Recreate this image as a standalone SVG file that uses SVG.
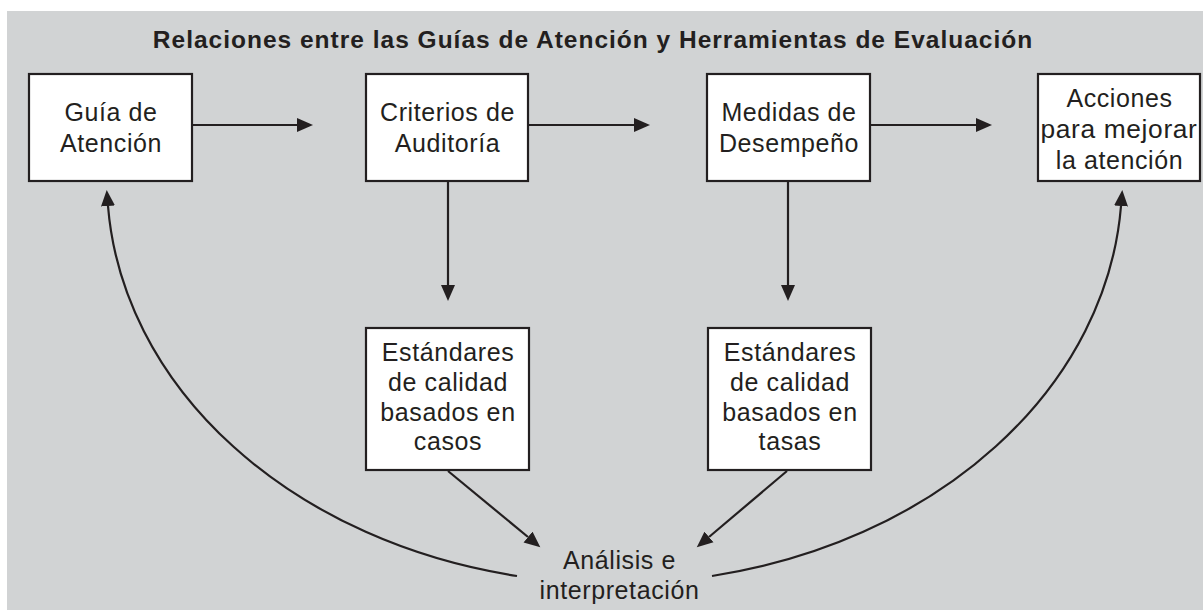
<svg xmlns="http://www.w3.org/2000/svg" width="1203" height="610" viewBox="0 0 1203 610">
  <style>
    .bg { fill: #d1d3d4; }
    .box { fill: #ffffff; stroke: #231f20; stroke-width: 2.2; }
    .lbl { font-family: "Liberation Sans", Arial, sans-serif; font-size: 25px; letter-spacing: 0.6px; fill: #231f20; text-anchor: middle; }
    .title { font-family: "Liberation Sans", Arial, sans-serif; font-size: 24.5px; letter-spacing: 1px; font-weight: bold; fill: #231f20; text-anchor: middle; }
    .conn { fill: none; stroke: #231f20; stroke-width: 2.2; }
  </style>
  <defs>
    <marker id="ah" markerUnits="userSpaceOnUse" markerWidth="17" markerHeight="15" refX="0" refY="7" orient="auto" viewBox="0 0 17 14">
      <path d="M0,0 L16,7 L0,14 z" fill="#231f20"/>
    </marker>
  </defs>
  <rect class="bg" x="7" y="11" width="1196" height="599"/>
  <text class="title" x="593" y="47.5">Relaciones entre las Guías de Atención y Herramientas de Evaluación</text>

  <g id="connectors">
    <line class="conn" x1="193" y1="125" x2="297" y2="125" marker-end="url(#ah)"/>
    <line class="conn" x1="529" y1="125" x2="634" y2="125" marker-end="url(#ah)"/>
    <line class="conn" x1="871" y1="125" x2="976" y2="125" marker-end="url(#ah)"/>
    <line class="conn" x1="448" y1="182" x2="448" y2="285" marker-end="url(#ah)"/>
    <line class="conn" x1="788" y1="182" x2="788" y2="285" marker-end="url(#ah)"/>
    <line class="conn" x1="448" y1="471" x2="528" y2="537" marker-end="url(#ah)"/>
    <line class="conn" x1="787" y1="471" x2="709" y2="537" marker-end="url(#ah)"/>
    <path class="conn" d="M517,576 A506.5,403.5 0 0 1 108,206" marker-end="url(#ah)"/>
    <path class="conn" d="M712,576 A506.5,403.5 0 0 0 1121,206" marker-end="url(#ah)"/>
  </g>

  <g id="guia">
    <rect class="box" x="29" y="74" width="163" height="107"/>
    <text class="lbl" x="111" y="120.5">Guía de</text>
    <text class="lbl" x="111" y="151.5">Atención</text>
  </g>
  <g id="criterios">
    <rect class="box" x="366" y="74" width="162" height="107"/>
    <text class="lbl" x="447.5" y="120.5">Criterios de</text>
    <text class="lbl" x="447.5" y="151.5">Auditoría</text>
  </g>
  <g id="medidas">
    <rect class="box" x="707" y="74" width="163" height="107"/>
    <text class="lbl" x="789" y="120.5">Medidas de</text>
    <text class="lbl" x="789" y="151.5">Desempeño</text>
  </g>
  <g id="acciones">
    <rect class="box" x="1038" y="74" width="162" height="107"/>
    <text class="lbl" x="1119.5" y="107">Acciones</text>
    <text class="lbl" x="1119" y="138" textLength="157" lengthAdjust="spacingAndGlyphs">para mejorar</text>
    <text class="lbl" x="1119.5" y="169">la atención</text>
  </g>
  <g id="estandares-casos">
    <rect class="box" x="366" y="328" width="163" height="142"/>
    <text class="lbl" x="448" y="360.5">Estándares</text>
    <text class="lbl" x="448" y="390.5">de calidad</text>
    <text class="lbl" x="448" y="420.5">basados en</text>
    <text class="lbl" x="448" y="450">casos</text>
  </g>
  <g id="estandares-tasas">
    <rect class="box" x="708" y="328" width="163" height="142"/>
    <text class="lbl" x="790" y="360.5">Estándares</text>
    <text class="lbl" x="790" y="390.5">de calidad</text>
    <text class="lbl" x="790" y="420.5">basados en</text>
    <text class="lbl" x="790" y="450">tasas</text>
  </g>
  <g id="analisis">
    <text class="lbl" x="619.5" y="569">Análisis e</text>
    <text class="lbl" x="619.5" y="599">interpretación</text>
  </g>
</svg>
